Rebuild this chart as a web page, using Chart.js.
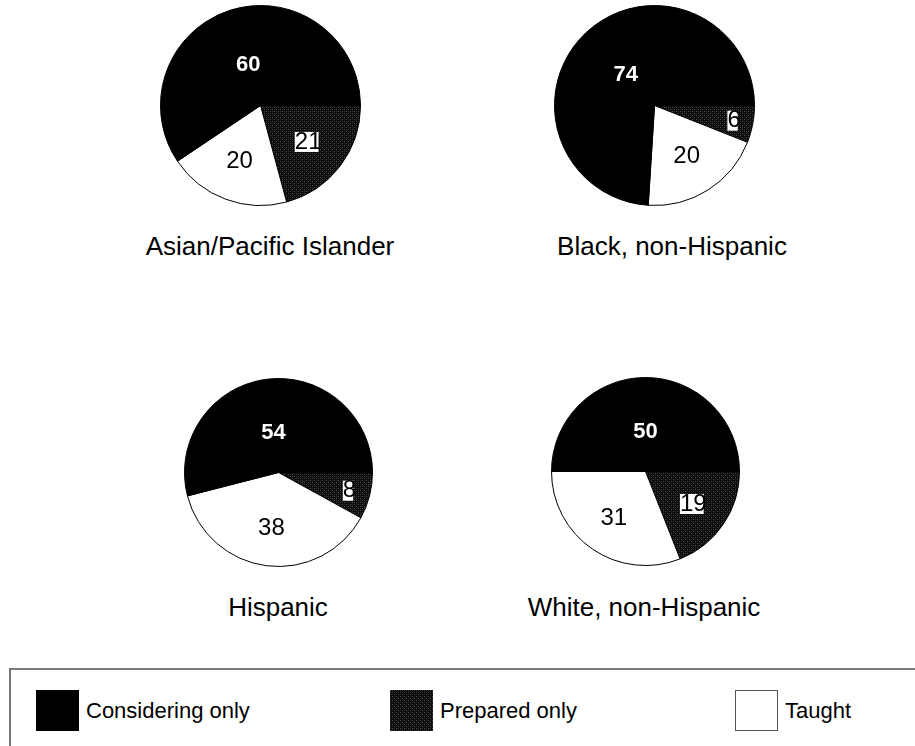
<!DOCTYPE html>
<html>
<head>
<meta charset="utf-8">
<script src="https://cdn.jsdelivr.net/npm/chart.js@4/dist/chart.umd.min.js"></script>
<style>
  html, body { margin: 0; padding: 0; background: #fff; }
  body { width: 915px; height: 746px; position: relative; overflow: hidden;
         font-family: "Liberation Sans", Arial, Helvetica, sans-serif; color: #000; }
  canvas.pie { position: absolute; }
  .title { position: absolute; font-size: 26px; white-space: nowrap;
           transform: translate(-50%, -50%); }
  .legend { position: absolute; left: 9px; top: 668px; width: 930px; height: 120px;
            border: 2px solid #7a7a7a; box-sizing: border-box; }
  .item { position: absolute; top: 20px; height: 41px; display: flex; align-items: center; }
  .swatch { width: 43px; height: 41px; box-sizing: border-box; margin-right: 7px; }
  .item span { font-size: 22px; }
</style>
</head>
<body>
<script>
// Shares of respondents by group (percent)
const categories = ['Prepared only', 'Taught', 'Considering only'];
const groups = ['Asian/Pacific Islander', 'Black, non-Hispanic', 'Hispanic', 'White, non-Hispanic'];
const asianValues = [21, 20, 60];
const blackValues = [6, 20, 74];
const hispanicValues = [8, 38, 54];
const whiteValues = [19, 31, 50];
const legendOrder = ['Considering only', 'Prepared only', 'Taught'];

// Dotted dark fill used for the "Prepared only" wedge
function makeDotPattern() {
  const c = document.createElement('canvas');
  c.width = 4; c.height = 4;
  const g = c.getContext('2d');
  g.fillStyle = '#0c0c0c'; g.fillRect(0, 0, 4, 4);
  g.fillStyle = '#4e4e4e'; g.fillRect(0, 0, 1, 1); g.fillRect(2, 2, 1, 1);
  g.fillStyle = '#2a2a2a'; g.fillRect(2, 0, 1, 1); g.fillRect(0, 2, 1, 1);
  return c;
}
const dotTile = makeDotPattern();

// Label look for each wedge, by category order; narrow wedges push their label outward
const labelStyles = [
  { dist: f => 0.6 + 0.3 * Math.max(0, 1 - f / 0.2), font: '24px "Liberation Sans", Arial, sans-serif', color: '#000', box: true },
  { dist: () => 0.6, font: '24px "Liberation Sans", Arial, sans-serif', color: '#000', box: false },
  { dist: () => 0.42, font: 'bold 22px "Liberation Sans", Arial, sans-serif', color: '#fff', box: false }
];

const sliceLabels = {
  id: 'sliceLabels',
  afterDatasetsDraw(chart) {
    const ctx = chart.ctx;
    const meta = chart.getDatasetMeta(0);
    const vals = chart.data.datasets[0].data;
    meta.data.forEach((arc, i) => {
      const p = arc.getProps(['x', 'y', 'startAngle', 'endAngle', 'outerRadius'], true);
      const span = p.endAngle - p.startAngle;
      const mid = (p.startAngle + p.endAngle) / 2;
      const st = labelStyles[i];
      const r = p.outerRadius * st.dist(span / (2 * Math.PI));
      const x = p.x + Math.cos(mid) * r;
      const y = p.y + Math.sin(mid) * r;
      const txt = String(vals[i]);
      ctx.save();
      ctx.font = st.font;
      ctx.textAlign = 'center';
      ctx.textBaseline = 'middle';
      if (st.box) {
        const w = ctx.measureText(txt).width;
        ctx.fillStyle = '#fff';
        ctx.fillRect(x - w / 2, y - 10, w - 3, 20);
      }
      ctx.fillStyle = st.color;
      ctx.fillText(txt, x, y);
      ctx.restore();
    });
  }
};

function addPie(values, left, top, size) {
  const cv = document.createElement('canvas');
  cv.className = 'pie';
  cv.width = size; cv.height = size;
  cv.style.left = left + 'px'; cv.style.top = top + 'px';
  document.body.appendChild(cv);
  const ctx = cv.getContext('2d');
  const pattern = ctx.createPattern(dotTile, 'repeat');
  new Chart(ctx, {
    type: 'pie',
    data: {
      labels: categories,
      datasets: [{
        data: values,
        backgroundColor: [pattern, '#ffffff', '#000000'],
        borderColor: '#000',
        borderWidth: 1
      }]
    },
    options: {
      responsive: false,
      animation: false,
      rotation: 90,
      layout: { padding: 0 },
      plugins: { legend: { display: false }, tooltip: { enabled: false } }
    },
    plugins: [sliceLabels]
  });
}

function addTitle(text, cx, cy) {
  const d = document.createElement('div');
  d.className = 'title';
  d.textContent = text;
  d.style.left = cx + 'px'; d.style.top = cy + 'px';
  document.body.appendChild(d);
}

addPie(asianValues, 160, 5, 201);
addPie(blackValues, 554, 5, 201);
addPie(hispanicValues, 184, 378, 189);
addPie(whiteValues, 551, 377, 189);

addTitle(groups[0], 270, 246);
addTitle(groups[1], 672, 246);
addTitle(groups[2], 278, 607);
addTitle(groups[3], 644, 607);

// Legend panel
const legend = document.createElement('div');
legend.className = 'legend';
document.body.appendChild(legend);
const itemLeft = [25, 379, 724];
const swatchStyle = {
  'Considering only': 'background:#000;',
  'Prepared only': 'background-image:url(' + dotTile.toDataURL() + ');',
  'Taught': 'background:#fff;border:1.5px solid #555;'
};
legendOrder.forEach((name, i) => {
  const it = document.createElement('div');
  it.className = 'item';
  it.style.left = itemLeft[i] + 'px';
  const sw = document.createElement('div');
  sw.className = 'swatch';
  sw.style.cssText = swatchStyle[name];
  const lb = document.createElement('span');
  lb.textContent = name;
  it.appendChild(sw);
  it.appendChild(lb);
  legend.appendChild(it);
});
</script>
</body>
</html>
